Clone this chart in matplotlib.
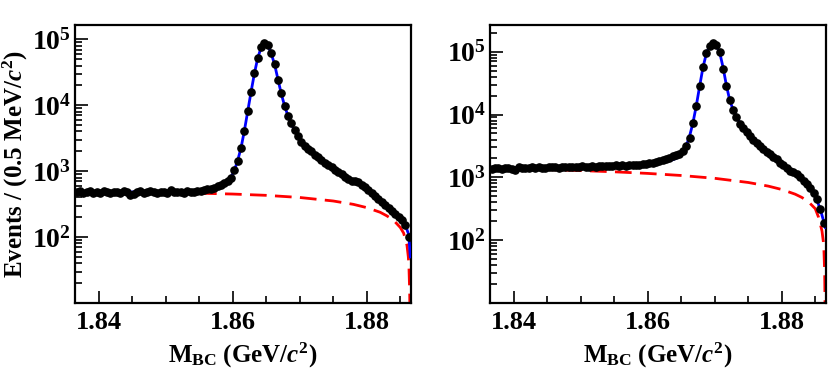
import numpy as np
import matplotlib
matplotlib.use("Agg")
import matplotlib.pyplot as plt
from matplotlib.ticker import MultipleLocator, LogLocator, FixedLocator, FuncFormatter, NullFormatter

plt.rcParams['font.family'] = 'Liberation Serif'
plt.rcParams['font.weight'] = 'bold'
plt.rcParams['axes.labelweight'] = 'bold'
plt.rcParams['mathtext.fontset'] = 'custom'
plt.rcParams['mathtext.rm'] = 'Liberation Serif:bold'
plt.rcParams['mathtext.bf'] = 'Liberation Serif:bold'
plt.rcParams['mathtext.it'] = 'Liberation Serif:italic'

# binning of M_BC (GeV/c^2), 0.5 MeV bins
bin_lo = 1.8365
bin_w = 0.0005
mbc_end = 1.8865

# D0 panel (left)
d0_counts = [
    478, 492, 470, 485, 501, 474, 488, 466, 495, 480,
    472, 490, 483, 462, 497, 476, 440, 455, 486, 493,
    471, 484, 502, 479, 468, 491, 485, 474, 520, 488,
    477, 483, 470, 495, 481, 487, 492, 505, 512, 530,
    545, 560, 590, 620, 660, 710, 790, 1030, 1450, 2230,
    4100, 8200, 16000, 30500, 53000, 76000, 87000, 82000, 61000, 43000,
    24000, 15200, 9800, 6900, 5300, 4200, 3400, 2800, 2450, 2200,
    2000, 1780, 1620, 1480, 1350, 1240, 1160, 1060, 980, 900,
    820, 770, 720, 700, 680, 620, 570, 520, 470, 420,
    380, 340, 310, 280, 250, 225, 205, 180, 155, 100,
]
d0_fit = [
    481, 481, 481, 481, 482, 482, 482, 482, 482, 482,
    483, 483, 483, 483, 483, 483, 484, 484, 484, 484,
    485, 485, 485, 486, 486, 486, 487, 487, 488, 488,
    489, 490, 491, 492, 493, 494, 495, 500, 510, 522,
    537, 556, 582, 615, 660, 725, 810, 1020, 1450, 2250,
    4100, 8100, 16000, 30500, 52500, 75000, 86500, 81000, 61000, 42000,
    25000, 15000, 9800, 6900, 5200, 4150, 3400, 2850, 2450, 2180,
    1960, 1780, 1620, 1480, 1360, 1250, 1160, 1070, 990, 915,
    845, 785, 735, 695, 655, 615, 570, 525, 475, 425,
    380, 342, 308, 278, 250, 226, 204, 180, 152, 110,
]
d0_fit_start = 481
d0_fit_end = 50

# background (ARGUS) curve sampled at these masses
bkg_x = [1.8365, 1.840, 1.845, 1.850, 1.855, 1.860, 1.865, 1.870, 1.875, 1.878, 1.880,
         1.882, 1.883, 1.884, 1.885, 1.8855, 1.886, 1.8862, 1.8863, 1.8864, 1.88645, 1.8865]
d0_bkg = [470, 472, 473, 470, 463, 450, 430, 399, 353, 314, 280,
          238, 210, 180, 140, 115, 75, 50, 33, 15, 5, 1]

# D+ panel (right)
dp_counts = [
    1380, 1410, 1395, 1370, 1420, 1400, 1340, 1300, 1440, 1415,
    1430, 1400, 1445, 1420, 1450, 1435, 1410, 1460, 1440, 1455,
    1430, 1470, 1450, 1465, 1440, 1480, 1460, 1490, 1470, 1455,
    1500, 1480, 1510, 1490, 1530, 1505, 1520, 1545, 1510, 1560,
    1540, 1575, 1560, 1600, 1590, 1620, 1650, 1680, 1700, 1740,
    1790, 1870, 1950, 2000, 2150, 2250, 2340, 2630, 3100, 4300,
    7200, 13700, 28400, 56500, 94000, 124000, 139000, 127000, 98000, 54000,
    28400, 17000, 11800, 9200, 7100, 6000, 5300, 4550, 3930, 3500,
    3100, 2790, 2550, 2350, 2130, 1940, 1710, 1550, 1420, 1280,
    1200, 1120, 1030, 880, 780, 670, 560, 447, 310, 186,
]
dp_fit = [
    1395, 1398, 1400, 1403, 1405, 1408, 1410, 1413, 1415, 1418,
    1420, 1423, 1425, 1428, 1430, 1433, 1436, 1439, 1442, 1445,
    1448, 1451, 1454, 1457, 1460, 1464, 1468, 1472, 1476, 1480,
    1485, 1490, 1495, 1500, 1506, 1512, 1518, 1525, 1532, 1540,
    1548, 1557, 1566, 1576, 1587, 1600, 1615, 1632, 1652, 1676,
    1705, 1740, 1785, 1840, 1910, 2010, 2170, 2480, 3150, 4500,
    7300, 13700, 28000, 56000, 93000, 124000, 137000, 125000, 97000, 56000,
    29000, 16800, 11900, 9200, 7300, 6100, 5300, 4570, 3970, 3500,
    3110, 2800, 2550, 2330, 2130, 1940, 1740, 1570, 1420, 1290,
    1190, 1100, 1010, 900, 790, 670, 550, 430, 310, 200,
]
dp_fit_start = 1393
dp_fit_end = 160
dp_bkg = [1390, 1367, 1329, 1282, 1226, 1156, 1071, 966, 829, 725, 641,
          540, 479, 407, 317, 230, 140, 95, 65, 30, 10, 1]


def draw_panel(ax, counts, fit, fit_start, fit_end, bkg, ymax):
    centers = bin_lo + bin_w * (np.arange(len(counts)) + 0.5)
    fit_x = np.concatenate([[bin_lo], centers, [mbc_end]])
    fit_y = np.concatenate([[fit_start], fit, [fit_end]])

    ax.plot(bkg_x, bkg, color='red', lw=2.0, ls=(0, (6, 3)), zorder=2)
    ax.plot(fit_x, fit_y, color='blue', lw=2.0, zorder=3)
    ax.plot(centers, counts, 'o', color='black', ms=5.2, zorder=4)

    ax.set_yscale('log')
    ax.set_xlim(1.8365, 1.8866)
    ax.set_ylim(10, ymax)

    ax.xaxis.set_major_locator(MultipleLocator(0.02))
    ax.xaxis.set_minor_locator(MultipleLocator(0.005))
    ax.xaxis.set_major_formatter(FuncFormatter(lambda v, p: '%.2f' % v))
    ax.yaxis.set_major_locator(FixedLocator([1e2, 1e3, 1e4, 1e5]))
    ax.yaxis.set_minor_locator(LogLocator(subs=np.arange(2, 10)))
    ax.yaxis.set_major_formatter(FuncFormatter(lambda v, p: r'$10^{%d}$' % round(np.log10(v))))
    ax.yaxis.set_minor_formatter(NullFormatter())

    ax.tick_params(which='both', direction='in', top=False, right=False, width=1.2)
    ax.tick_params(axis='x', labelsize=19, pad=6)
    ax.tick_params(axis='y', labelsize=20, pad=3)
    ax.tick_params(which='major', length=9)
    ax.tick_params(which='minor', length=5)
    for s in ax.spines.values():
        s.set_linewidth(1.6)

    ax.set_xlabel(r'M$_{\mathrm{BC}}$ (GeV/$c^{2}$)', fontsize=18, labelpad=5)


fig = plt.figure(figsize=(8.3, 3.79), dpi=100)
ax1 = fig.add_axes([0.0904, 0.2005, 0.4048, 0.7335])
ax2 = fig.add_axes([0.5904, 0.2005, 0.4048, 0.7335])

draw_panel(ax1, d0_counts, d0_fit, d0_fit_start, d0_fit_end, d0_bkg, 1.65e5)
draw_panel(ax2, dp_counts, dp_fit, dp_fit_start, dp_fit_end, dp_bkg, 2.66e5)
ax1.set_ylabel(r'Events / (0.5 MeV/$c^{2}$)', fontsize=18, labelpad=1)

fig.savefig('out.png', dpi=100)
